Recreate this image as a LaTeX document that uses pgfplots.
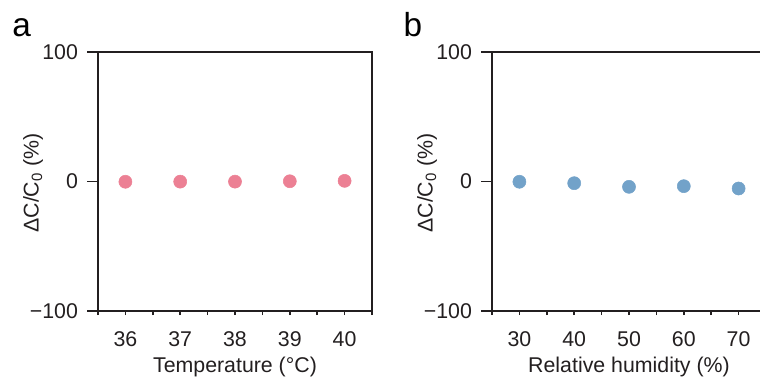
\documentclass[border=0pt]{standalone}
\usepackage{pgfplots}
\pgfplotsset{compat=1.18}
\usepackage{fontspec}
\setmainfont{Liberation Sans}
\definecolor{pinkdot}{RGB}{236,128,148}
\definecolor{bluedot}{RGB}{114,162,201}
\definecolor{axcol}{RGB}{35,31,32}
\pgfplotsset{panel/.style={
  scale only axis, width=205.5pt, height=194.25pt,
  ymin=-100, ymax=100,
  axis line style={axcol, line width=1.1pt},
  tick style={axcol, line width=1.1pt},
  tick align=outside, tick pos=left,
  major tick length=3pt, minor tick length=3pt,
  ytick=\empty, minor ytick={-50,50},
  extra y ticks={-100,0,100}, extra y tick labels={−100,0,100},
  extra y tick style={major tick length=8pt},
  font=\fontsize{16}{19}\selectfont,
  /pgf/number format/assume math mode=true,
  ticklabel style={text=axcol},
  xticklabel style={yshift=-9pt},
  yticklabel style={xshift=-3.5pt},
  label style={text=axcol},
  ylabel={ΔC/C\textsubscript{0} (\%)},
  ylabel style={at={(axis description cs:-0.237,0.494)}, anchor=center},
  xlabel style={at={(axis description cs:0.5,0)}, anchor=base, yshift=-45.75pt},
  clip=false,
}}
\begin{document}
\begin{tikzpicture}
\begin{axis}[panel, at={(73.5pt,-233.25pt)}, anchor=south west,
  xmin=35.5, xmax=40.5, xtick={36,37,38,39,40},
  minor xtick={35.5,36.5,37.5,38.5,39.5,40.5},
  xlabel={Temperature (°C)}]
\addplot[pinkdot, only marks, mark=*, mark size=4.9pt, mark options={draw=pinkdot, fill=pinkdot}]
  coordinates {(36,-0.2) (37,-0.1) (38,-0.1) (39,0.2) (40,0.5)};
\end{axis}
\begin{axis}[panel, at={(369pt,-233.25pt)}, anchor=south west,
  xmin=25, xmax=75, xtick={30,40,50,60,70},
  minor xtick={25,35,45,55,65,75},
  xlabel={Relative humidity (\%)}]
\addplot[bluedot, only marks, mark=*, mark size=4.9pt, mark options={draw=bluedot, fill=bluedot}]
  coordinates {(30,-0.2) (40,-1.3) (50,-4.1) (60,-3.6) (70,-5.4)};
\end{axis}
\node[anchor=base west, inner sep=0pt, font=\fontsize{25}{30}\selectfont] at (9pt,-27.5pt) {a};
\node[anchor=base west, inner sep=0pt, font=\fontsize{25}{30}\selectfont] at (302.5pt,-27.5pt) {b};
\pgfresetboundingbox
\useasboundingbox (0,0) rectangle (570pt,-284.25pt);
\end{tikzpicture}
\end{document}
